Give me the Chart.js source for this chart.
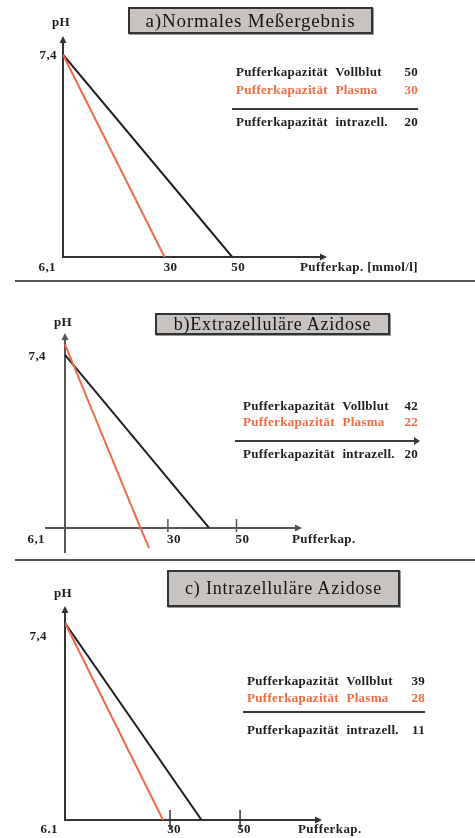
<!DOCTYPE html>
<html>
<head>
<meta charset="utf-8">
<script src="https://cdn.jsdelivr.net/npm/chart.js@4/dist/chart.umd.min.js"></script>
<style>
  html, body { margin: 0; padding: 0; background: #fff; }
  body { width: 475px; height: 838px; position: relative; overflow: hidden;
         font-family: "Liberation Serif", "DejaVu Serif", serif; }
  .panel { position: absolute; left: 0; width: 475px; }
  .panel canvas { position: absolute; left: 0; top: 0; }
  .title { position: absolute; box-sizing: border-box; background: #c6c3c1;
           border: 2px solid #333; box-shadow: 1px 1px 0 #999; color: #141414;
           text-align: center; white-space: nowrap; letter-spacing: 0.8px; }
  .legend { position: absolute; font-weight: bold; font-size: 13px; color: #1e1e1e; }
  .legend .row { position: absolute; left: 0; right: 0; height: 14px; line-height: 14px;
                 white-space: nowrap; word-spacing: 4px; letter-spacing: 0.3px; }
  .legend .num { position: absolute; right: 0; top: 0; }
  .legend .rule { position: absolute; height: 0; border-top: 2px solid #3a3a3a; }
  .legend .tip { position: absolute; width: 0; height: 0; border-top: 4px solid transparent;
                 border-bottom: 4px solid transparent; border-left: 6px solid #3a3a3a; }
  .sep { position: absolute; left: 15px; right: 0; height: 0; border-top: 2px solid #555; }
</style>
</head>
<body>
<div class="sep" style="top:280px"></div>
<div class="sep" style="top:559px"></div>
<script>
// Titration lines of the buffer capacity: pH falls from 7,4 to 6,1
const panelTitles = ['a)Normales Meßergebnis', 'b)Extrazelluläre Azidose', 'c) Intrazelluläre Azidose'];
const capVollblut = [50, 42, 39];
const capPlasma = [30, 22, 28];
const capIntrazell = [20, 20, 11];
const phStartVollblut = [7.4, 7.4, 7.4];
const phStartPlasma = [7.4, 7.48, 7.4];
const phEnd = 6.1;
const plasmaOvershoot = [null, { x: 24.5, y: 5.95 }, null];
const xTickValues = [30, 50];
const yTopLabels = ['7,4', '7,4', '7,4'];
const yBottomLabels = ['6,1', '6,1', '6.1'];
const xAxisTitles = ['Pufferkap. [mmol/l]', 'Pufferkap.', 'Pufferkap.'];
const legendNames = ['Pufferkapazität Vollblut', 'Pufferkapazität Plasma', 'Pufferkapazität intrazell.'];

const BLACK = '#1f1f1f';
const ORANGE = '#ee6b45';

// Placement of every panel on the page
const layouts = [
  { top: 0, height: 281, area: { l: 63, r: 327, t: 36, b: 257 },
    x: { min: 0, max: 78 }, y: { min: 6.1, max: 7.52 },
    yAxisBelow: false, xAxisLeft: false, tickUp: 0, tickDown: 0, axisColor: '#333',
    topLabelDx: -6, topLabelDy: 1, bottomLabelDx: -7, tickLabelDx: 6, tickLabelDy: 11,
    pHDy: -13, xTitleDx: -27,
    title: { l: 128, t: 7, w: 245, h: 27, fs: 19 },
    legend: { l: 236, w: 182, rows: [72, 90, 122], rule: { y: 109, l: -4 }, arrow: false } },
  { top: 281, height: 279, area: { l: 45, r: 302, t: 52, b: 272 },
    x: { min: -5.83, max: 69.1 }, y: { min: 5.912, max: 7.565 },
    yAxisBelow: true, xAxisLeft: true, tickUp: 9, tickDown: 4, axisColor: '#555',
    topLabelDx: -19, topLabelDy: 2, bottomLabelDx: -20, tickLabelDx: 6, tickLabelDy: 12,
    pHDy: -10, xTitleDx: -10,
    title: { l: 155, t: 313, w: 235, h: 22, fs: 18 },
    legend: { l: 243, w: 175, rows: [406, 422, 454], rule: { y: 441, l: -8 }, arrow: true } },
  { top: 560, height: 278, area: { l: 65, r: 322, t: 46, b: 260 },
    x: { min: 0, max: 73.4 }, y: { min: 6.1, max: 7.512 },
    yAxisBelow: false, xAxisLeft: false, tickUp: 10, tickDown: 10, axisColor: '#333',
    topLabelDx: -18, topLabelDy: 14, bottomLabelDx: -7, tickLabelDx: 4, tickLabelDy: 10,
    pHDy: -12, xTitleDx: -24,
    title: { l: 167, t: 570, w: 233, h: 37, fs: 18 },
    legend: { l: 247, w: 178, rows: [681, 698, 730], rule: { y: 712, l: -4 }, arrow: false } }
];

// Axes with arrow heads, tick marks and their labels, drawn from the chart scales
const axisDecor = {
  id: 'axisDecor',
  beforeDatasetsDraw(chart, args, o) {
    const ctx = chart.ctx, xs = chart.scales.x, ys = chart.scales.y, ca = chart.chartArea;
    const x0 = xs.getPixelForValue(0);
    const yBase = ys.getPixelForValue(phEnd);
    const yTop = ys.getPixelForValue(o.yTopValue);
    ctx.save();
    ctx.strokeStyle = o.axisColor; ctx.fillStyle = o.axisColor; ctx.lineWidth = 2;
    const seg = (a, b, c, d) => { ctx.beginPath(); ctx.moveTo(a, b); ctx.lineTo(c, d); ctx.stroke(); };
    // y axis with arrow
    seg(x0, o.yAxisBelow ? ca.bottom : yBase + 1, x0, ca.top + 5);
    ctx.beginPath(); ctx.moveTo(x0, ca.top); ctx.lineTo(x0 - 3.5, ca.top + 7); ctx.lineTo(x0 + 3.5, ca.top + 7); ctx.closePath(); ctx.fill();
    // x axis with arrow
    seg(o.xAxisLeft ? ca.left : x0 - 1, yBase, ca.right - 5, yBase);
    ctx.beginPath(); ctx.moveTo(ca.right, yBase); ctx.lineTo(ca.right - 7, yBase - 3.5); ctx.lineTo(ca.right - 7, yBase + 3.5); ctx.closePath(); ctx.fill();
    // tick marks
    ctx.lineWidth = 1.5;
    if (o.tickUp || o.tickDown) {
      xTickValues.forEach(v => { const px = xs.getPixelForValue(v); seg(px, yBase - o.tickUp, px, yBase + o.tickDown); });
    }
    // labels
    ctx.fillStyle = '#1e1e1e';
    ctx.font = 'bold 13px "Liberation Serif"';
    if ('letterSpacing' in ctx) ctx.letterSpacing = '0.4px';
    ctx.textBaseline = 'middle';
    ctx.textAlign = 'center';
    xTickValues.forEach(v => ctx.fillText(String(v), xs.getPixelForValue(v) + o.tickLabelDx, yBase + o.tickLabelDy));
    ctx.fillText('pH', x0 - 2, ca.top + o.pHDy);
    ctx.textAlign = 'right';
    ctx.fillText(o.topLabel, x0 + o.topLabelDx, yTop + o.topLabelDy);
    ctx.fillText(o.bottomLabel, x0 + o.bottomLabelDx, yBase + o.tickLabelDy);
    ctx.textAlign = 'left';
    ctx.fillText(o.xTitle, ca.right + o.xTitleDx, yBase + o.tickLabelDy);
    ctx.restore();
  }
};

layouts.forEach((L, i) => {
  const panel = document.createElement('div');
  panel.className = 'panel';
  panel.style.top = L.top + 'px';
  panel.style.height = L.height + 'px';
  const canvas = document.createElement('canvas');
  canvas.width = 475; canvas.height = L.height;
  canvas.style.width = '475px'; canvas.style.height = L.height + 'px';
  panel.appendChild(canvas);
  document.body.appendChild(panel);

  const vollblutPts = [{ x: 0, y: phStartVollblut[i] }, { x: capVollblut[i], y: phEnd }];
  const plasmaPts = [{ x: 0, y: phStartPlasma[i] }, { x: capPlasma[i], y: phEnd }];
  if (plasmaOvershoot[i]) plasmaPts.push(plasmaOvershoot[i]);

  new Chart(canvas, {
    type: 'line',
    data: {
      datasets: [
        { label: 'Plasma', data: plasmaPts, borderColor: ORANGE, borderWidth: 2, pointRadius: 0, tension: 0, fill: false },
        { label: 'Vollblut', data: vollblutPts, borderColor: BLACK, borderWidth: 2, pointRadius: 0, tension: 0, fill: false }
      ]
    },
    options: {
      responsive: false, animation: false, events: [],
      layout: { padding: { left: L.area.l, right: 475 - L.area.r, top: L.area.t, bottom: L.height - L.area.b } },
      plugins: {
        legend: { display: false }, tooltip: { enabled: false },
        axisDecor: {
          axisColor: L.axisColor, yAxisBelow: L.yAxisBelow, xAxisLeft: L.xAxisLeft,
          tickUp: L.tickUp, tickDown: L.tickDown, yTopValue: 7.4,
          topLabel: yTopLabels[i], bottomLabel: yBottomLabels[i], xTitle: xAxisTitles[i],
          topLabelDx: L.topLabelDx, topLabelDy: L.topLabelDy, bottomLabelDx: L.bottomLabelDx,
          tickLabelDx: L.tickLabelDx, tickLabelDy: L.tickLabelDy, pHDy: L.pHDy, xTitleDx: L.xTitleDx
        }
      },
      scales: {
        x: { type: 'linear', display: false, min: L.x.min, max: L.x.max },
        y: { type: 'linear', display: false, min: L.y.min, max: L.y.max }
      }
    },
    plugins: [axisDecor]
  });

  // boxed panel heading
  const t = document.createElement('div');
  t.className = 'title';
  t.textContent = panelTitles[i];
  Object.assign(t.style, { left: L.title.l + 'px', top: L.title.t + 'px', width: L.title.w + 'px',
    height: L.title.h + 'px', fontSize: L.title.fs + 'px', lineHeight: (L.title.h - 4) + 'px' });
  document.body.appendChild(t);

  // text legend with the three buffer capacities
  const lg = document.createElement('div');
  lg.className = 'legend';
  Object.assign(lg.style, { left: L.legend.l + 'px', top: '0px', width: L.legend.w + 'px', height: '0px' });
  const values = [capVollblut[i], capPlasma[i], capIntrazell[i]];
  const colors = ['#1e1e1e', ORANGE, '#1e1e1e'];
  values.forEach((v, k) => {
    const row = document.createElement('div');
    row.className = 'row';
    row.style.top = (L.legend.rows[k] - 7) + 'px';
    row.style.color = colors[k];
    row.textContent = legendNames[k];
    const num = document.createElement('span');
    num.className = 'num';
    num.textContent = String(v);
    row.appendChild(num);
    lg.appendChild(row);
  });
  const rule = document.createElement('div');
  rule.className = 'rule';
  Object.assign(rule.style, { left: L.legend.rule.l + 'px', right: (L.legend.arrow ? 4 : 0) + 'px', top: (L.legend.rule.y - 1) + 'px' });
  lg.appendChild(rule);
  if (L.legend.arrow) {
    const tip = document.createElement('div');
    tip.className = 'tip';
    Object.assign(tip.style, { right: '-2px', top: (L.legend.rule.y - 4) + 'px' });
    lg.appendChild(tip);
  }
  document.body.appendChild(lg);
});
</script>
</body>
</html>
